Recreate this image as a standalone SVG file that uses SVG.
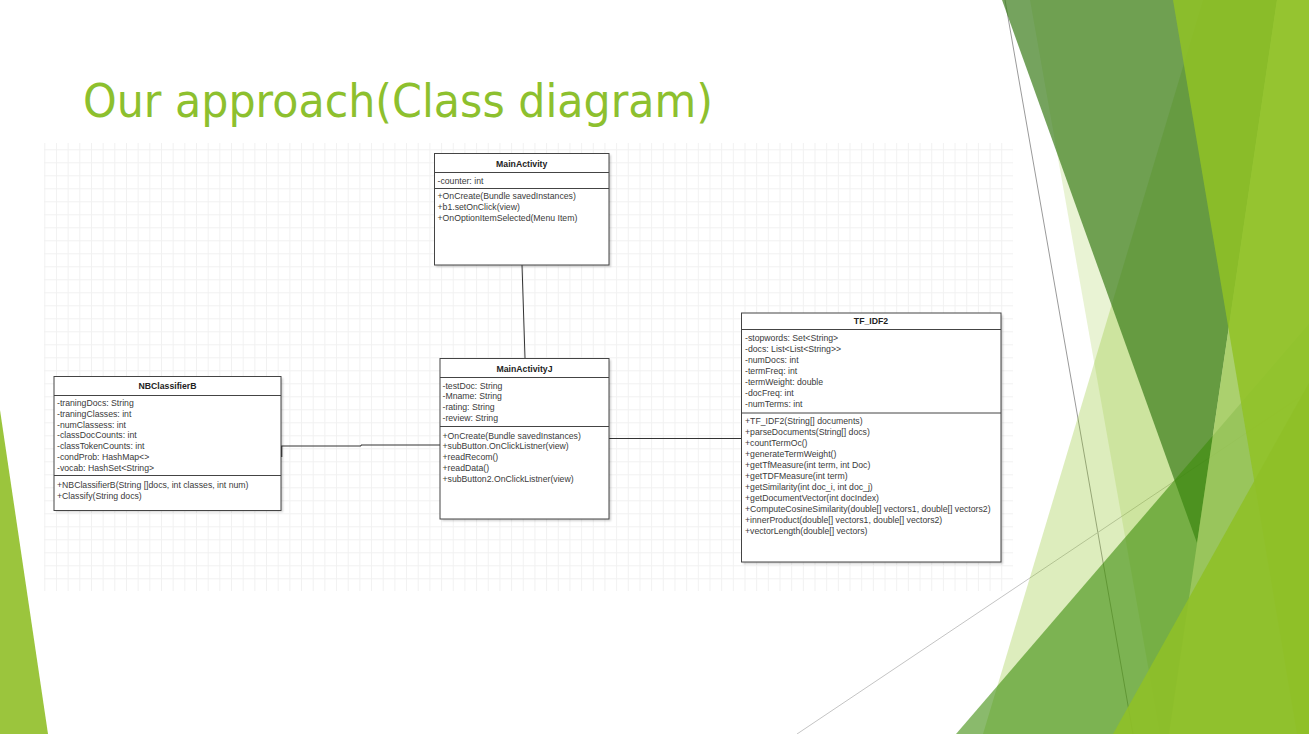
<svg xmlns="http://www.w3.org/2000/svg" width="1309" height="734" viewBox="0 0 1309 734">
<style>
.box{fill:#fff;stroke:#444;stroke-width:1}
.sep{stroke:#444;stroke-width:1}
.shadow{fill:#000;opacity:0.18}
.t{font-family:"Liberation Sans",Arial,sans-serif;font-size:8.7px;fill:#3a3a3a}
.h{font-family:"Liberation Sans",Arial,sans-serif;font-size:8.7px;font-weight:bold;fill:#222;text-anchor:middle}
.conn{fill:none;stroke:#333;stroke-width:1}
</style>
<defs>
<pattern id="grid" patternUnits="userSpaceOnUse" x="44.3" y="149.3" width="11.67" height="13">
<path d="M0 0.5 H11.67 M0.5 0 V13" stroke="#f1f1f1" stroke-width="1" fill="none"/>
</pattern>
<filter id="blur" x="-10%" y="-10%" width="120%" height="120%"><feGaussianBlur stdDeviation="1.2"/></filter>
</defs>
<rect width="1309" height="734" fill="#fff"/>

<g id="decoration">
<polygon points="0,410 48,734 0,734" fill="#9BC53D"/>
<line x1="1005" y1="0" x2="1133" y2="734" stroke="#9a9a9a" stroke-width="1"/>
<line x1="797" y1="734" x2="1309" y2="391" stroke="#c4c4c4" stroke-width="1"/>
<polygon points="1030,0 1160,734 1309,734 1309,0" fill="#90C226" fill-opacity="0.2"/>
<polygon points="1203,0 983,734 1309,734 1309,0" fill="#90C226" fill-opacity="0.3"/>
<polygon points="1002,0 1277,0 1197,543" fill="#3A7C1A" fill-opacity="0.7"/>
<polygon points="956,734 1309,324 1309,734" fill="#3C8C0A" fill-opacity="0.6"/>
<polygon points="1277,0 1169,734 1309,734 1309,0" fill="#A2CA62" fill-opacity="0.8"/>
<polygon points="1173,0 1297,734 1309,734 1309,0" fill="#90C226" fill-opacity="0.85"/>
<polygon points="1113,734 1309,383 1309,734" fill="#8FC028" fill-opacity="0.9"/>
</g>

<text x="83" y="117" font-family="DejaVu Sans, Verdana, sans-serif" font-size="46" fill="#8DC02E" textLength="630" lengthAdjust="spacingAndGlyphs">Our approach(Class diagram)</text>

<rect x="44" y="143" width="969" height="448" fill="url(#grid)"/>

<g id="connectors">
<line class="conn" x1="522" y1="265" x2="525" y2="358"/>
<polyline class="conn" points="281,446 361,446 361,445 440,445"/>
<line x1="281.5" y1="446" x2="281.5" y2="457" stroke="#333" stroke-width="1.6"/>
<line class="conn" x1="609" y1="438.5" x2="741" y2="438.5"/>
</g>

<g id="MainActivity">
<rect class="shadow" x="436" y="155" width="175" height="112" filter="url(#blur)"/>
<rect class="box" x="434.5" y="153.5" width="174.5" height="111.5"/>
<line class="sep" x1="434.5" y1="172.5" x2="609" y2="172.5"/>
<line class="sep" x1="434.5" y1="188.5" x2="609" y2="188.5"/>
<text class="h" x="521.7" y="167">MainActivity</text>
<text class="t" x="437.5" y="183.5">-counter: int</text>
<text class="t" x="437.5" y="199">+OnCreate(Bundle savedInstances)</text>
<text class="t" x="437.5" y="209.8">+b1.setOnClick(view)</text>
<text class="t" x="437.5" y="220.6">+OnOptionItemSelected(Menu Item)</text>
</g>

<g id="MainActivityJ">
<rect class="shadow" x="442" y="360" width="169" height="161" filter="url(#blur)"/>
<rect class="box" x="440" y="358.5" width="169" height="160.5"/>
<line class="sep" x1="440" y1="377.5" x2="609" y2="377.5"/>
<line class="sep" x1="440" y1="426.5" x2="609" y2="426.5"/>
<text class="h" x="524.5" y="372">MainActivityJ</text>
<text class="t" x="442.5" y="388.5">-testDoc: String</text>
<text class="t" x="442.5" y="399.3">-Mname: String</text>
<text class="t" x="442.5" y="410.1">-rating: String</text>
<text class="t" x="442.5" y="420.9">-review: String</text>
<text class="t" x="442.5" y="438.5">+OnCreate(Bundle savedInstances)</text>
<text class="t" x="442.5" y="449.3">+subButton.OnClickListner(view)</text>
<text class="t" x="442.5" y="460.1">+readRecom()</text>
<text class="t" x="442.5" y="470.9">+readData()</text>
<text class="t" x="442.5" y="481.7">+subButton2.OnClickListner(view)</text>
</g>

<g id="NBClassifierB">
<rect class="shadow" x="56" y="378" width="227" height="134" filter="url(#blur)"/>
<rect class="box" x="54" y="376.5" width="227" height="134"/>
<line class="sep" x1="54" y1="395.5" x2="281" y2="395.5"/>
<line class="sep" x1="54" y1="475.5" x2="281" y2="475.5"/>
<text class="h" x="167.5" y="389">NBClassifierB</text>
<text class="t" x="57" y="405.7">-traningDocs: String</text>
<text class="t" x="57" y="416.6">-traningClasses: int</text>
<text class="t" x="57" y="427.5">-numClassess: int</text>
<text class="t" x="57" y="438.4">-classDocCounts: int</text>
<text class="t" x="57" y="449.3">-classTokenCounts: int</text>
<text class="t" x="57" y="460.2">-condProb: HashMap&lt;&gt;</text>
<text class="t" x="57" y="471.1">-vocab: HashSet&lt;String&gt;</text>
<text class="t" x="57" y="488.3">+NBClassifierB(String []docs, int classes, int num)</text>
<text class="t" x="57" y="499.2">+Classify(String docs)</text>
</g>

<g id="TF_IDF2">
<rect class="shadow" x="743" y="315" width="260" height="249" filter="url(#blur)"/>
<rect class="box" x="741.5" y="313" width="259.5" height="249"/>
<line class="sep" x1="741.5" y1="329.5" x2="1001" y2="329.5"/>
<line class="sep" x1="741.5" y1="413" x2="1001" y2="413"/>
<text class="h" x="871" y="324">TF_IDF2</text>
<text class="t" x="745" y="341">-stopwords: Set&lt;String&gt;</text>
<text class="t" x="745" y="352">-docs: List&lt;List&lt;String&gt;&gt;</text>
<text class="t" x="745" y="363">-numDocs: int</text>
<text class="t" x="745" y="374">-termFreq: int</text>
<text class="t" x="745" y="385">-termWeight: double</text>
<text class="t" x="745" y="396">-docFreq: int</text>
<text class="t" x="745" y="407">-numTerms: int</text>
<text class="t" x="745" y="424.3">+TF_IDF2(String[] documents)</text>
<text class="t" x="745" y="435.2">+parseDocuments(String[] docs)</text>
<text class="t" x="745" y="446.2">+countTermOc()</text>
<text class="t" x="745" y="457.1">+generateTermWeight()</text>
<text class="t" x="745" y="468.1">+getTfMeasure(int term, int Doc)</text>
<text class="t" x="745" y="479">+getTDFMeasure(int term)</text>
<text class="t" x="745" y="490">+getSimilarity(int doc_i, int doc_j)</text>
<text class="t" x="745" y="500.9">+getDocumentVector(int docIndex)</text>
<text class="t" x="745" y="511.8">+ComputeCosineSimilarity(double[] vectors1, double[] vectors2)</text>
<text class="t" x="745" y="522.8">+innerProduct(double[] vectors1, double[] vectors2)</text>
<text class="t" x="745" y="533.7">+vectorLength(double[] vectors)</text>
</g>
</svg>
